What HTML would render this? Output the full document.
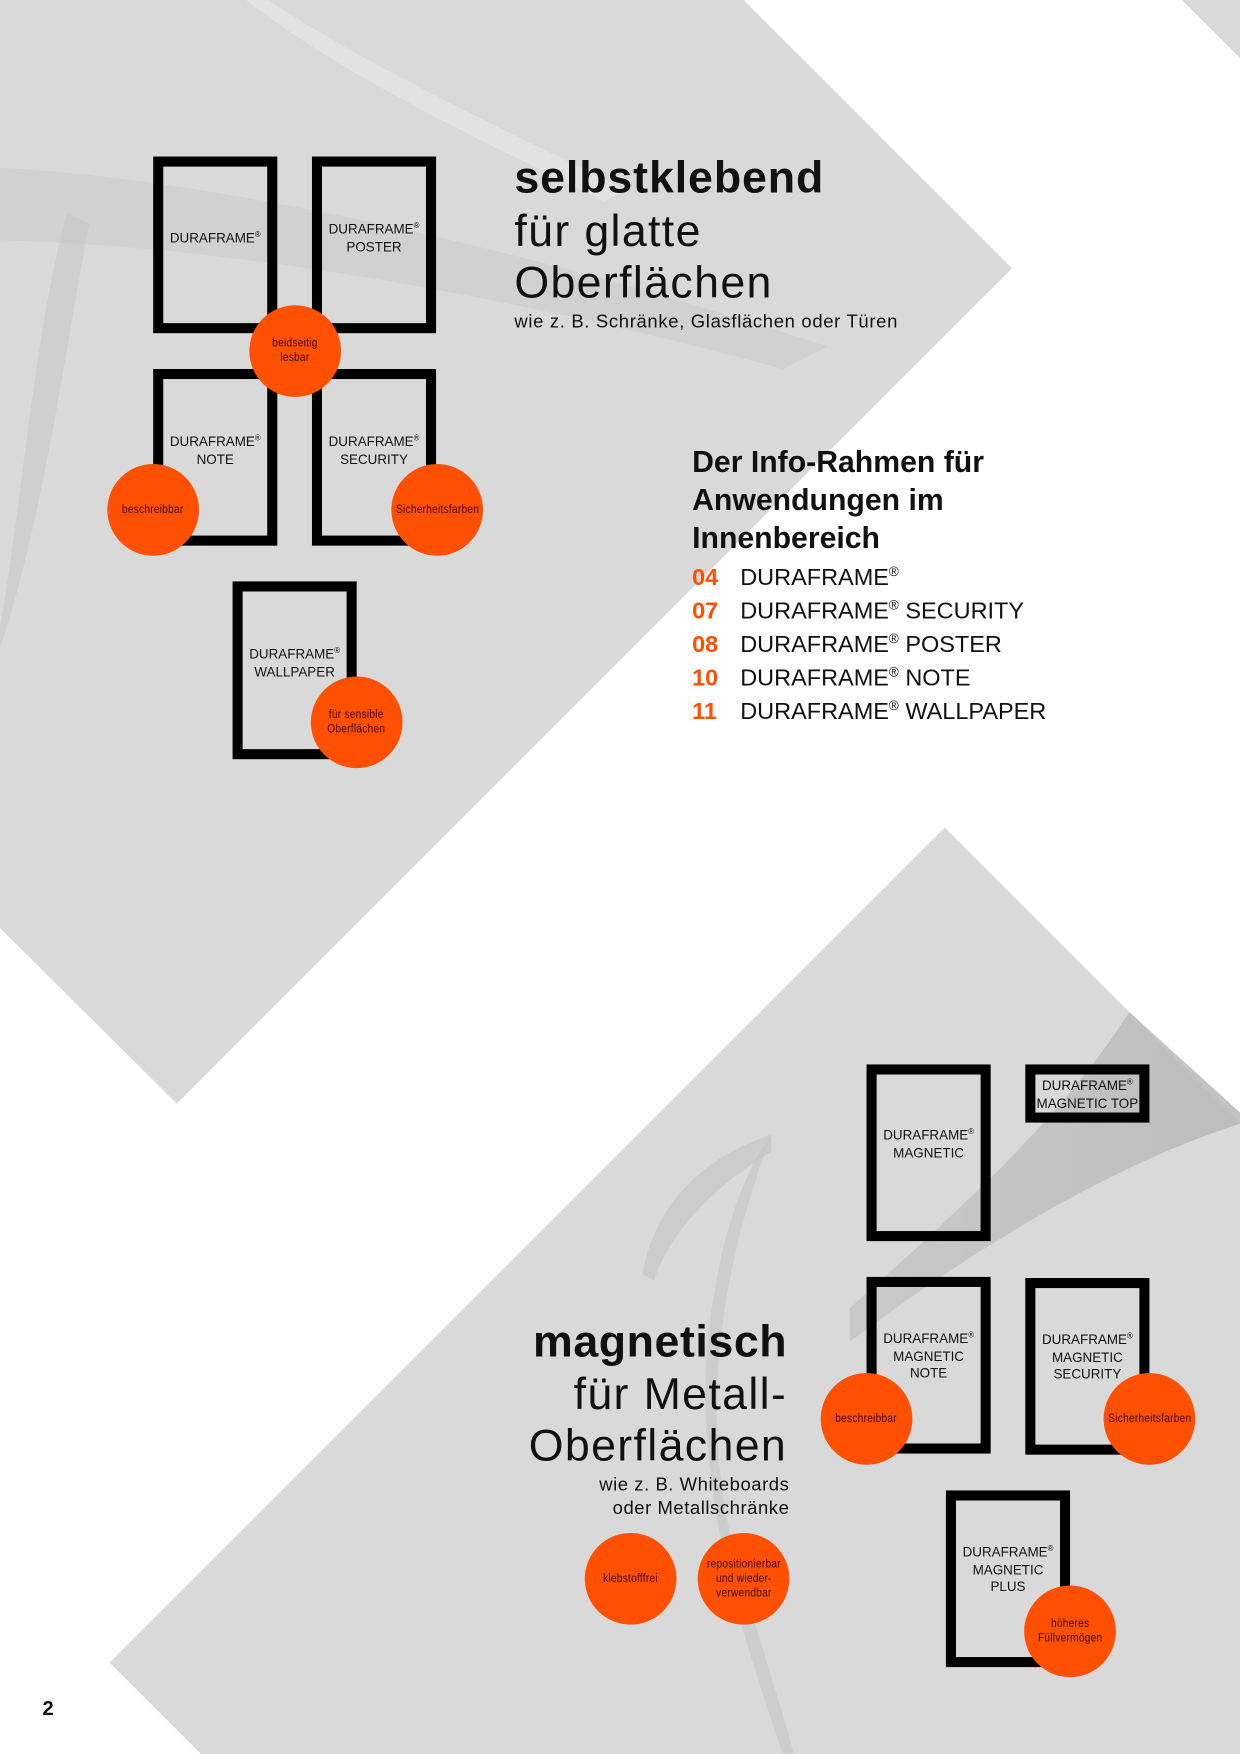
<!DOCTYPE html>
<html><head><meta charset="utf-8"><style>
html,body{margin:0;padding:0;background:#fff;width:1240px;height:1754px;overflow:hidden}
#w{position:absolute;left:0;top:0;width:1109px;height:1569px;transform:scale(1.11812);transform-origin:0 0;font-family:"Liberation Sans",sans-serif;color:#111}
.f{position:absolute;border:9px solid #000;box-sizing:border-box}
.fl{position:absolute;left:-20px;right:-20px;text-align:center;font-size:12px;line-height:15.5px;color:#111}
.fl sup{font-size:7px;vertical-align:5px;line-height:0}
.c{position:absolute;width:82px;height:82px;border-radius:50%;background:#ff4f00;display:flex;align-items:center;justify-content:center;text-align:center}
.c span{display:block;font-size:11px;line-height:13px;color:#3a0a00;transform:scaleX(.82);white-space:nowrap;letter-spacing:.3px}
.t{position:absolute;white-space:nowrap}
.li{position:absolute;left:619px;font-size:21px;white-space:nowrap}
.li b{color:#ff4f00;display:inline-block;width:43px}
.li sup{font-size:12px;vertical-align:8px;line-height:0}
.big{font-size:40px;line-height:46px;letter-spacing:1.2px}
</style></head><body><div id="w">
<svg width="1109" height="1569" style="position:absolute;left:0;top:0">
<defs><linearGradient id="g" x1="0" x2="1"><stop offset="0" stop-color="#b8babb" stop-opacity=".5"/><stop offset="1" stop-color="#b8babb" stop-opacity=".9"/></linearGradient></defs>
<polygon points="0,0 665,0 905,240 158,987 0,830" fill="#d9d9d9"/>
<polygon points="1057,0 1109,0 1109,52" fill="#d9d9d9"/>
<polygon points="845,740 1109,1004 1109,1569 180,1569 98,1487" fill="#d9d9d9"/>
<path d="M0,150 C200,160 500,230 740,310 L700,330 C480,270 220,220 0,215 Z" fill="#c7c8c9" opacity=".45"/>
<path d="M60,190 C30,300 20,450 0,560 L0,580 C40,460 60,300 80,200 Z" fill="#c4c5c6" opacity=".5"/>
<path d="M240,0 C330,60 440,110 560,170 L540,180 C420,120 310,70 220,0 Z" fill="#e4e4e4" opacity=".8"/>
<path d="M1010,905 L1109,995 L1109,1005 C1000,1040 880,1110 760,1200 L760,1170 C860,1080 950,1000 1010,905 Z" fill="url(#g)"/>
<path d="M690,1015 C650,1120 620,1260 660,1400 C680,1470 700,1530 710,1569 L700,1569 C660,1450 610,1300 640,1150 C650,1090 670,1040 690,1015 Z" fill="#c6c7c8" opacity=".7"/>
<path d="M690,1015 C610,1040 580,1100 575,1140 L585,1145 C600,1100 640,1060 690,1030 Z" fill="#c2c3c4" opacity=".6"/>
</svg>

<div class="f" style="left:137px;top:140px;width:111px;height:158px"><div class="fl" style="top:57px">DURAFRAME<sup>®</sup></div></div>
<div class="f" style="left:279px;top:140px;width:111px;height:158px"><div class="fl" style="top:49px">DURAFRAME<sup>®</sup><br>POSTER</div></div>
<div class="f" style="left:137px;top:330px;width:111px;height:158px"><div class="fl" style="top:49px">DURAFRAME<sup>®</sup><br>NOTE</div></div>
<div class="f" style="left:279px;top:330px;width:111px;height:158px"><div class="fl" style="top:49px">DURAFRAME<sup>®</sup><br>SECURITY</div></div>
<div class="f" style="left:208px;top:520px;width:111px;height:159px"><div class="fl" style="top:49px">DURAFRAME<sup>®</sup><br>WALLPAPER</div></div>

<div class="c" style="left:223px;top:273px"><span>beidseitig<br>lesbar</span></div>
<div class="c" style="left:96px;top:415px"><span>beschreibbar</span></div>
<div class="c" style="left:350px;top:415px"><span>Sicherheitsfarben</span></div>
<div class="c" style="left:278px;top:605px"><span>für sensible<br>Oberflächen</span></div>

<div class="t big" style="left:460px;top:136px;font-weight:bold;letter-spacing:.8px">selbstklebend</div>
<div class="t big" style="left:460px;top:184px">für glatte</div>
<div class="t big" style="left:460px;top:230px">Oberflächen</div>
<div class="t" style="left:460px;top:278px;font-size:16.5px;line-height:20px;letter-spacing:.6px">wie z. B. Schränke, Glasflächen oder Türen</div>

<div class="t" style="left:619px;top:396px;font-size:27px;font-weight:bold;line-height:34px">Der Info-Rahmen für<br>Anwendungen im<br>Innenbereich</div>
<div class="li" style="top:505px"><b>04</b>DURAFRAME<sup>®</sup></div>
<div class="li" style="top:535px"><b>07</b>DURAFRAME<sup>®</sup> SECURITY</div>
<div class="li" style="top:565px"><b>08</b>DURAFRAME<sup>®</sup> POSTER</div>
<div class="li" style="top:595px"><b>10</b>DURAFRAME<sup>®</sup> NOTE</div>
<div class="li" style="top:625px"><b>11</b>DURAFRAME<sup>®</sup> WALLPAPER</div>

<div class="f" style="left:775px;top:952px;width:111px;height:158px"><div class="fl" style="top:47px">DURAFRAME<sup>®</sup><br>MAGNETIC</div></div>
<div class="f" style="left:917px;top:952px;width:111px;height:52px"><div class="fl" style="top:3px">DURAFRAME<sup>®</sup><br>MAGNETIC TOP</div></div>
<div class="f" style="left:775px;top:1142px;width:111px;height:158px"><div class="fl" style="top:39px">DURAFRAME<sup>®</sup><br>MAGNETIC<br>NOTE</div></div>
<div class="f" style="left:917px;top:1143px;width:111px;height:158px"><div class="fl" style="top:39px">DURAFRAME<sup>®</sup><br>MAGNETIC<br>SECURITY</div></div>
<div class="f" style="left:846px;top:1333px;width:111px;height:158px"><div class="fl" style="top:39px">DURAFRAME<sup>®</sup><br>MAGNETIC<br>PLUS</div></div>

<div class="c" style="left:734px;top:1228px"><span>beschreibbar</span></div>
<div class="c" style="left:987px;top:1228px"><span>Sicherheitsfarben</span></div>
<div class="c" style="left:916px;top:1418px"><span>höheres<br>Füllvermögen</span></div>
<div class="c" style="left:523px;top:1371px"><span>klebstofffrei</span></div>
<div class="c" style="left:624px;top:1371px"><span>repositionierbar<br>und wieder-<br>verwendbar</span></div>

<div class="t big" style="right:405px;top:1177px;font-weight:bold;text-align:right;letter-spacing:.5px">magnetisch</div>
<div class="t big" style="right:405px;top:1224px;text-align:right">für Metall-</div>
<div class="t big" style="right:405px;top:1270px;text-align:right">Oberflächen</div>
<div class="t" style="right:403px;top:1318px;font-size:16.5px;line-height:20.5px;text-align:right;letter-spacing:.5px">wie z. B. Whiteboards<br>oder Metallschränke</div>

<div class="t" style="left:38px;top:1518px;font-size:18px;font-weight:bold">2</div>
</div></body></html>
